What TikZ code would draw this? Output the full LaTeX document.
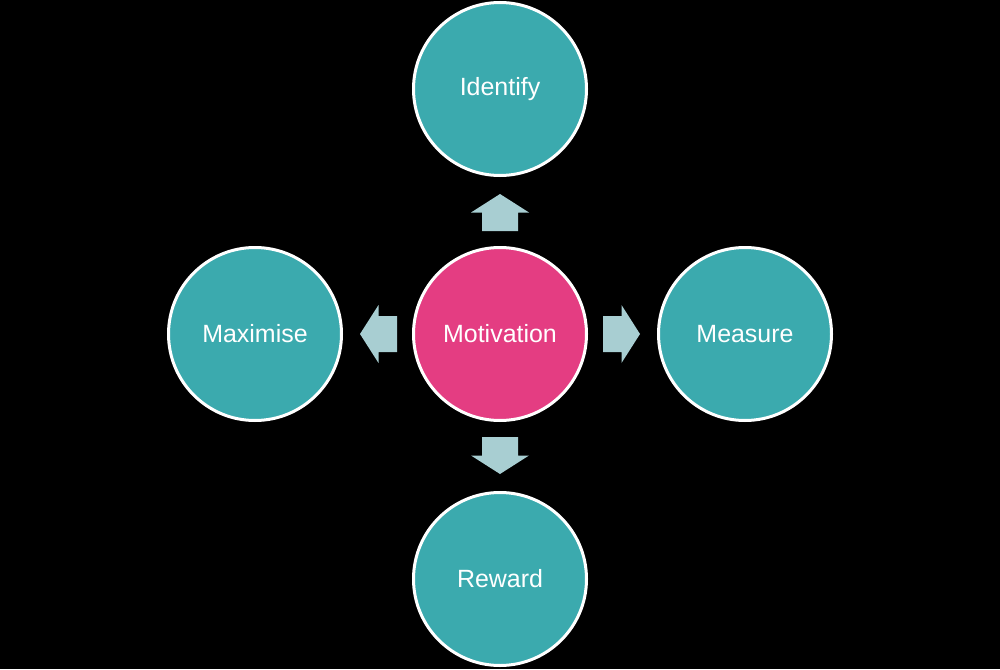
\documentclass[tikz,border=0pt]{standalone}
\usepackage{fontspec}
\setmainfont{Liberation Sans}
\usetikzlibrary{positioning}
\definecolor{stage}{RGB}{59,170,174}
\definecolor{core}{RGB}{228,61,130}
\definecolor{arrowfill}{RGB}{168,206,210}

\tikzset{
  stagecircle/.style={circle, draw=white, line width=0.06cm, fill=stage, text=white,
    minimum size=3.46cm, inner sep=0pt, font=\fontsize{14.2}{17}\selectfont},
  corecircle/.style={stagecircle, fill=core},
  blockarrow/.pic={
    \fill[arrowfill] (-0.37,-0.36) -- (0,-0.36) -- (0,-0.58) -- (0.37,0)
      -- (0,0.58) -- (0,0.36) -- (-0.37,0.36) -- cycle;
  }
}

\begin{document}
\begin{tikzpicture}
  % Background - drawn first
  \fill[black] (0,0) rectangle (20,13.38);

  % Centre
  \node[corecircle] (motivation) at (10,6.7) {Motivation};

  % Surrounding stages
  \node[stagecircle] (identify) at (10,11.6) {Identify};
  \node[stagecircle] (measure) at (14.9,6.7) {Measure};
  \node[stagecircle] (reward) at (10,1.8) {Reward};
  \node[stagecircle] (maximise) at (5.1,6.7) {Maximise};

  % Block arrows out of the centre
  \pic[rotate=90] (toidentify) at (10,9.13) {blockarrow};
  \pic (tomeasure) at (12.43,6.7) {blockarrow};
  \pic[rotate=-90] (toreward) at (10,4.27) {blockarrow};
  \pic[rotate=180] (tomaximise) at (7.57,6.7) {blockarrow};
\end{tikzpicture}
\end{document}
